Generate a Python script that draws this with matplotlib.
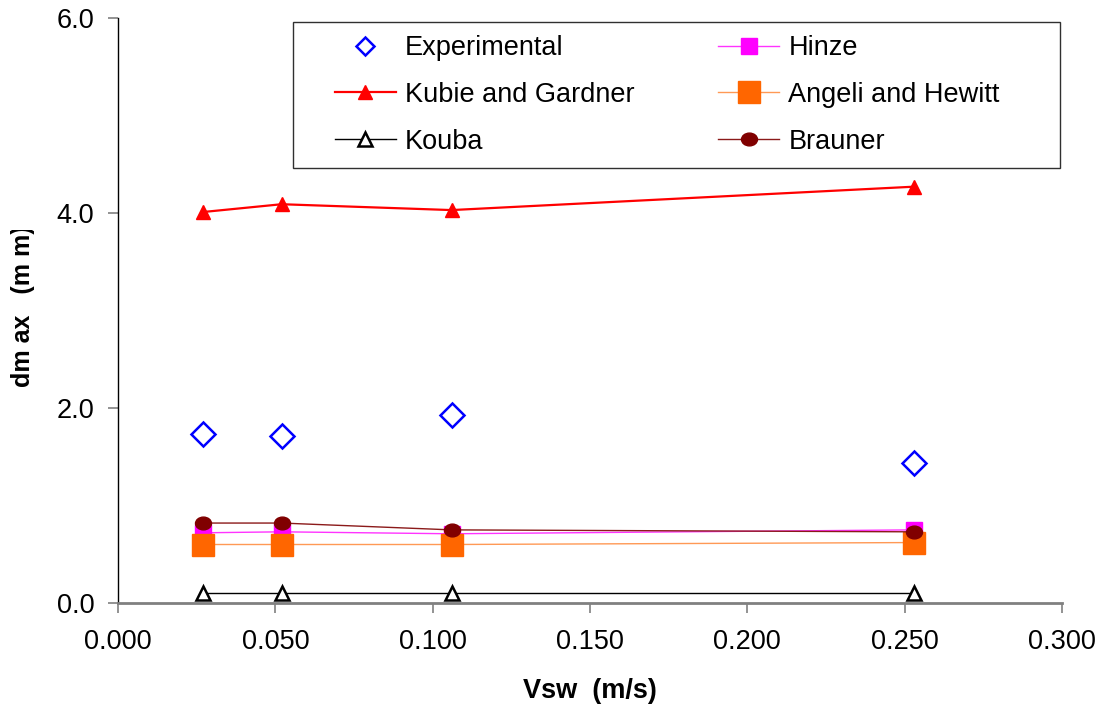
import matplotlib
matplotlib.use("Agg")
import matplotlib.pyplot as plt
from matplotlib.path import Path
from matplotlib.patches import Rectangle
from matplotlib.transforms import Bbox, Affine2D

plt.rcParams['font.family'] = ['Liberation Sans', 'DejaVu Sans']

vsw = [0.027, 0.052, 0.106, 0.253]
experimental = [1.73, 1.71, 1.93, 1.44]
kubie_gardner = [4.01, 4.09, 4.03, 4.27]
kouba = [0.10, 0.10, 0.10, 0.10]
hinze = [0.72, 0.73, 0.71, 0.75]
angeli_hewitt = [0.60, 0.60, 0.60, 0.62]
brauner = [0.82, 0.82, 0.75, 0.73]

x_ticks = [0.0, 0.05, 0.10, 0.15, 0.20, 0.25, 0.30]
y_ticks = [0.0, 2.0, 4.0, 6.0]

W, H = 1106, 711
fig = plt.figure(figsize=(W / 100, H / 100), dpi=100)
L, R, T, B = 118, 1062, 18, 603
ax = fig.add_axes([L / W, 1 - B / H, (R - L) / W, (B - T) / H])

ellipse = Path.unit_circle().transformed(Affine2D().scale(1.0, 0.8))

ax.plot(vsw, experimental, linestyle='none', marker='D', markersize=12,
        markerfacecolor='none', markeredgecolor='#0000ff', markeredgewidth=1.8, label='Experimental')
ax.plot(vsw, kubie_gardner, color='#ff0000', lw=1.6, marker='^', markersize=10,
        markerfacecolor='#ff0000', markeredgecolor='#ff0000', label='Kubie and Gardner')
ax.plot(vsw, kouba, color='#000000', lw=1.0, marker='^', markersize=10,
        markerfacecolor='white', markeredgecolor='#000000', markeredgewidth=1.8, label='Kouba')
ax.plot(vsw, hinze, color='#ff33ff', lw=1.0, marker='s', markersize=11.5,
        markerfacecolor='#ff00ff', markeredgecolor='#ff00ff', label='Hinze')
ax.plot(vsw, angeli_hewitt, color='#ff9955', lw=1.0, marker='s', markersize=16.5,
        markerfacecolor='#ff6600', markeredgecolor='#ff6600', label='Angeli and Hewitt')
ax.plot(vsw, brauner, color='#8b1a1a', lw=1.0, marker=ellipse, markersize=11.5,
        markerfacecolor='#800000', markeredgecolor='#800000', label='Brauner')

ax.set_xlim(0, 0.3)
ax.set_ylim(0, 6.0)
ax.set_xticks(x_ticks)
ax.set_xticklabels([f"{t:.3f}" for t in x_ticks])
ax.set_yticks(y_ticks)
ax.set_yticklabels([f"{t:.1f}" for t in y_ticks])
for s in ['top', 'right']:
    ax.spines[s].set_visible(False)
ax.spines['left'].set_color('#000000')
ax.spines['left'].set_linewidth(1.0)
ax.spines['bottom'].set_color('#808080')
ax.spines['bottom'].set_linewidth(2.0)
ax.tick_params(axis='y', direction='out', length=7, width=1.2, color='#808080',
               labelsize=19.5, labelcolor='black', pad=10)
ax.tick_params(axis='x', direction='out', length=7, width=1.2, color='#808080',
               labelsize=19.5, labelcolor='black', pad=12)

ax.set_xlabel('Vsw  (m/s)', fontsize=19.5, fontweight='bold', labelpad=16)
ylab = fig.text(23 / W, 1 - 387 / H, 'dm ax   (m m)', rotation=90, fontsize=18,
                fontweight='bold', ha='center', va='bottom')
ylab.set_clip_box(Bbox.from_extents(0, 0, 100, H - 230))
ylab.set_clip_on(True)

# legend frame
fig.patches.append(Rectangle((293, H - 168), 767, 146, transform=None, fill=False,
                             edgecolor='#303030', lw=1.0, figure=fig))
leg = ax.legend(ncol=2, loc='upper left', bbox_to_anchor=(335 / W, 1 - 35 / H),
                bbox_transform=fig.transFigure, fontsize=19.5, frameon=False,
                handlelength=2.25, handletextpad=0.33, labelspacing=0.77, borderpad=0,
                borderaxespad=0, columnspacing=3.1)
leg.legend_handles[0].set_markersize(9.5)

fig.savefig('out.png', dpi=100)
